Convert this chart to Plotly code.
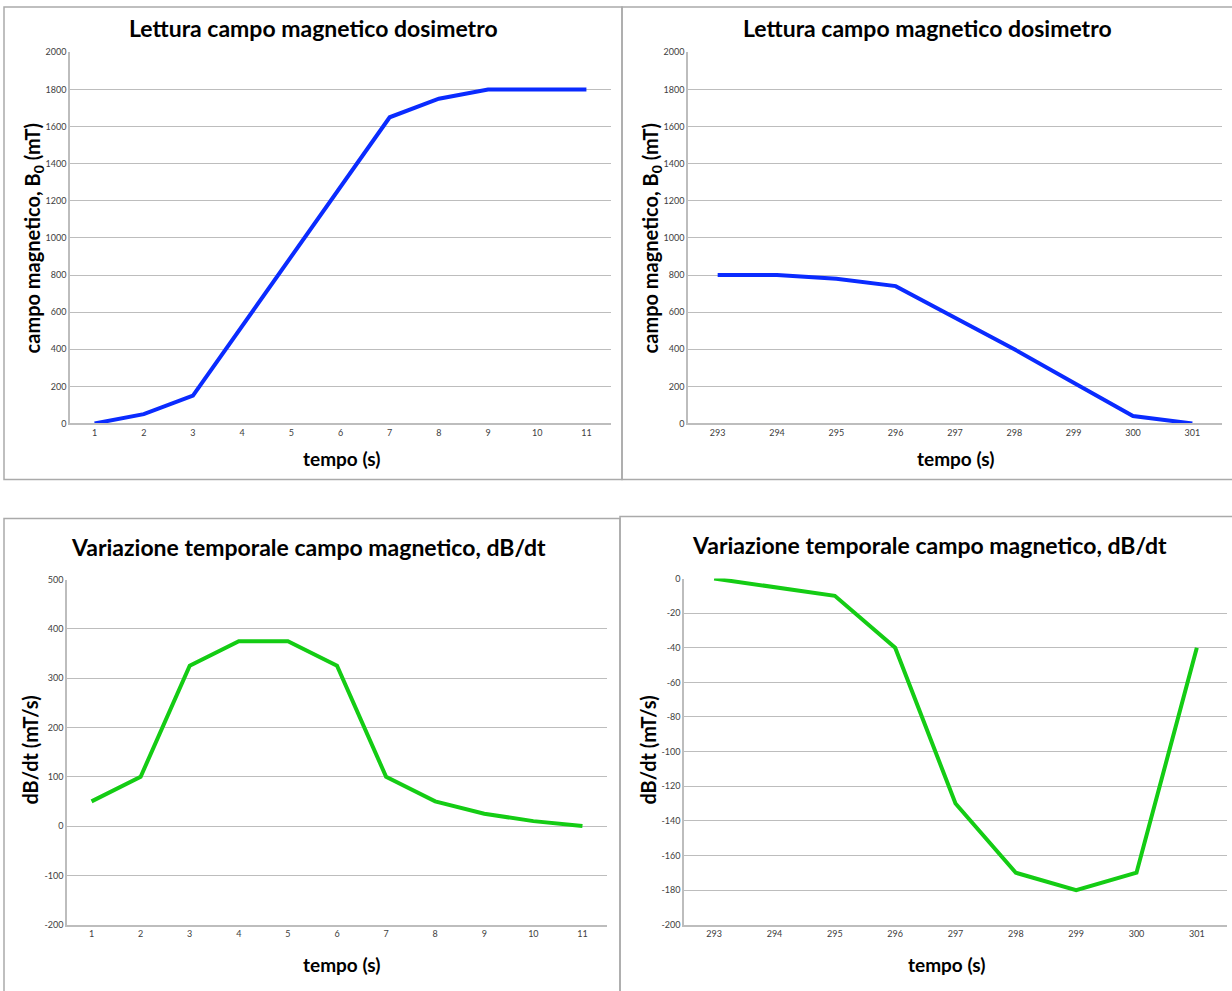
import plotly.graph_objects as go

# --- data -------------------------------------------------------------
t_start = [1, 2, 3, 4, 5, 6, 7, 8, 9, 10, 11]
b_start = [0, 50, 150, 525, 900, 1275, 1650, 1750, 1800, 1800, 1800]

t_end = [293, 294, 295, 296, 297, 298, 299, 300, 301]
b_end = [800, 800, 780, 740, 570, 400, 220, 40, 0]

dbdt_start = [50, 100, 325, 375, 375, 325, 100, 50, 25, 10, 0]
dbdt_end = [0, -5, -10, -40, -130, -170, -180, -170, -40]

ticks_b = [0, 200, 400, 600, 800, 1000, 1200, 1400, 1600, 1800, 2000]
ticks_d_start = [-200, -100, 0, 100, 200, 300, 400, 500]
ticks_d_end = [-200, -180, -160, -140, -120, -100, -80, -60, -40, -20, 0]

title_b = "Lettura campo magnetico dosimetro"
title_d = "Variazione temporale campo magnetico, dB/dt"
xlabel = "tempo (s)"
ylabel_b = "campo magnetico, B<sub>0</sub> (mT)"
ylabel_d = "dB/dt (mT/s)"

W, H = 1232, 991
BLUE = "#0A2BFF"
GREEN = "#14CC14"
GRID = "#BDBDBD"
FONT = "Lato"
TICK_FONT = dict(family=FONT, size=9, color="#404040")

# vertical layout positions are given in page pixels; convert to the
# figure's own pixel grid
Y_SCALE, Y_OFF = 0.9885, 5.7


def fy(y):
    return (y - Y_OFF) / Y_SCALE


def px_x(a, b):
    return [a / W, b / W]


def px_y(top, bottom):
    return [1 - fy(bottom) / H, 1 - fy(top) / H]


fig = go.Figure()

panels = [
    # (axis id, x, y, line colour, x domain px, y domain px, y ticks)
    ("", t_start, b_start, BLUE, (70, 611), (52, 423), ticks_b),
    ("2", t_end, b_end, BLUE, (688, 1222), (52, 423), ticks_b),
    ("3", t_start, dbdt_start, GREEN, (67, 607), (579, 924), ticks_d_start),
    ("4", t_end, dbdt_end, GREEN, (684, 1227), (578, 924), ticks_d_end),
]

for ax, xs, ys, col, (xa, xb), (yt, yb), yticks in panels:
    fig.add_trace(go.Scatter(
        x=xs, y=ys, mode="lines",
        line=dict(color=col, width=4),
        xaxis="x" + ax, yaxis="y" + ax, showlegend=False,
        hoverinfo="x+y",
    ))
    fig.layout["xaxis" + ax] = dict(
        domain=px_x(xa, xb), anchor="y" + ax,
        range=[xs[0] - 0.5, xs[-1] + 0.5],
        tickvals=xs, ticktext=[str(v) for v in xs],
        showgrid=False, zeroline=False,
        showline=True, linecolor=GRID, linewidth=1.5,
        ticks="", ticklen=0, tickfont=TICK_FONT,
        fixedrange=True,
    )
    fig.layout["yaxis" + ax] = dict(
        domain=px_y(yt, yb), anchor="x" + ax,
        range=[min(yticks), max(yticks)],
        tickvals=yticks, ticktext=[str(v) for v in yticks],
        showgrid=True, gridcolor=GRID, gridwidth=1,
        zeroline=False,
        showline=True, linecolor=GRID, linewidth=1.5,
        ticks="", ticklen=0, tickfont=TICK_FONT,
        fixedrange=True,
    )

# panel frames
frames = [(4, 2, 622, 479), (622, 2, 1240, 479), (4, 518, 620, 1000), (620, 516, 1240, 1000)]
for x0, y0, x1, y1 in frames:
    top = max(fy(y0), 1)
    fig.add_shape(type="rect", xref="paper", yref="paper",
                  x0=x0 / W, x1=x1 / W, y0=1 - fy(y1) / H, y1=1 - top / H,
                  line=dict(color="#AAAAAA", width=1.5), fillcolor="rgba(0,0,0,0)",
                  layer="below")

anns = []


def text(x, y, s, size, angle=0):
    anns.append(dict(x=x / W, y=1 - fy(y) / H, xref="paper", yref="paper",
                     text=s, showarrow=False, textangle=angle,
                     xanchor="center", yanchor="middle",
                     font=dict(family=FONT, size=size, color="#000000")))


# chart titles
text(313, 28, "<b>%s</b>" % title_b, 23)
text(927, 28, "<b>%s</b>" % title_b, 23)
text(308, 546, "<b>%s</b>" % title_d, 23)
text(929, 544, "<b>%s</b>" % title_d, 23)
# x axis titles
text(341, 458, "<b>%s</b>" % xlabel, 19)
text(955, 458, "<b>%s</b>" % xlabel, 19)
text(341, 964, "<b>%s</b>" % xlabel, 19)
text(946, 964, "<b>%s</b>" % xlabel, 19)
# y axis titles
text(33, 238, "<b>%s</b>" % ylabel_b, 20, -90)
text(651, 238, "<b>%s</b>" % ylabel_b, 20, -90)
text(30, 750, "<b>%s</b>" % ylabel_d, 20, -90)
text(648, 750, "<b>%s</b>" % ylabel_d, 20, -90)

fig.update_layout(
    width=W, height=H,
    margin=dict(l=0, r=0, t=0, b=0),
    paper_bgcolor="white", plot_bgcolor="white",
    annotations=anns,
    font=dict(family=FONT),
)

fig.write_html("out.html")
